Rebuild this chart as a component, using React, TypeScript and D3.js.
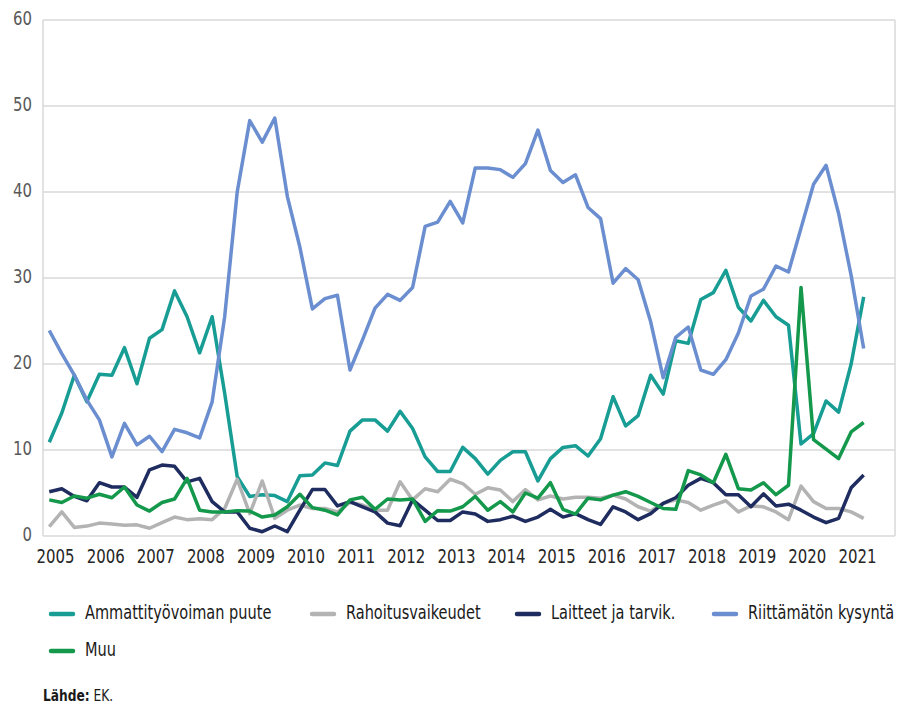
import * as React from 'react';
import { scaleBand, scaleLinear, line } from 'd3';

// quarterly survey, 2005Q1 - 2021Q2 (axis runs to 2021Q4)
const years = [2005, 2006, 2007, 2008, 2009, 2010, 2011, 2012, 2013, 2014, 2015, 2016, 2017, 2018, 2019, 2020, 2021];
const yTicks = [0, 10, 20, 30, 40, 50, 60];

const ammattityovoima = [10.9, 14.3, 18.7, 15.6, 18.8, 18.7, 21.9, 17.7, 23.0, 24.0, 28.5, 25.5, 21.3, 25.5, 16.6, 6.9, 4.6, 4.8, 4.7, 4.0, 7.0, 7.1, 8.5, 8.2, 12.2, 13.5, 13.5, 12.2, 14.5, 12.5, 9.2, 7.5, 7.5, 10.3, 9.0, 7.2, 8.8, 9.8, 9.8, 6.4, 9.0, 10.3, 10.5, 9.3, 11.3, 16.2, 12.8, 14.0, 18.7, 16.5, 22.7, 22.4, 27.5, 28.3, 30.9, 26.6, 25.0, 27.4, 25.5, 24.5, 10.7, 11.9, 15.7, 14.4, 20.0, 27.8];
const rahoitus = [1.1, 2.8, 1.0, 1.15, 1.5, 1.4, 1.25, 1.3, 0.9, 1.55, 2.2, 1.9, 2.0, 1.9, 3.2, 6.6, 2.6, 6.4, 2.05, 3.0, 3.6, 3.2, 3.2, 2.8, 3.9, 3.6, 3.0, 3.0, 6.3, 4.2, 5.5, 5.15, 6.6, 6.1, 4.85, 5.6, 5.35, 4.0, 5.4, 4.2, 4.65, 4.3, 4.5, 4.5, 4.4, 4.75, 4.3, 3.4, 2.9, 3.8, 4.2, 3.9, 3.0, 3.6, 4.1, 2.8, 3.5, 3.4, 2.8, 1.9, 5.8, 4.0, 3.2, 3.2, 2.8, 2.05];
const laitteet = [5.15, 5.5, 4.6, 4.1, 6.2, 5.7, 5.7, 4.5, 7.7, 8.25, 8.1, 6.3, 6.7, 4.0, 2.8, 2.8, 0.9, 0.5, 1.16, 0.5, 3.0, 5.4, 5.4, 3.5, 4.0, 3.4, 2.8, 1.5, 1.2, 4.2, 3.0, 1.8, 1.8, 2.8, 2.55, 1.7, 1.9, 2.3, 1.7, 2.2, 3.1, 2.2, 2.6, 1.9, 1.35, 3.4, 2.8, 1.9, 2.6, 3.8, 4.45, 5.9, 6.7, 6.2, 4.8, 4.8, 3.4, 4.9, 3.5, 3.7, 3.0, 2.2, 1.55, 2.05, 5.6, 7.1];
const kysynta = [23.9, 21.2, 18.7, 15.8, 13.5, 9.2, 13.1, 10.6, 11.6, 9.8, 12.4, 12.0, 11.4, 15.6, 25.5, 40.0, 48.3, 45.8, 48.6, 39.5, 33.6, 26.4, 27.6, 28.0, 19.3, 22.8, 26.5, 28.1, 27.4, 28.9, 36.0, 36.5, 38.9, 36.4, 42.8, 42.8, 42.6, 41.7, 43.3, 47.2, 42.5, 41.1, 42.0, 38.2, 36.9, 29.4, 31.1, 29.8, 24.9, 18.4, 23.1, 24.3, 19.3, 18.8, 20.5, 23.6, 27.9, 28.7, 31.4, 30.7, 35.8, 40.9, 43.1, 37.5, 30.3, 21.8];
const muu = [4.2, 3.9, 4.65, 4.4, 4.85, 4.45, 5.7, 3.6, 2.9, 3.9, 4.3, 6.7, 3.0, 2.8, 2.8, 2.95, 2.9, 2.2, 2.45, 3.4, 4.85, 3.3, 3.0, 2.45, 4.2, 4.5, 3.1, 4.3, 4.2, 4.3, 1.7, 2.95, 2.9, 3.4, 4.6, 3.0, 4.0, 2.8, 5.0, 4.4, 6.2, 3.1, 2.55, 4.4, 4.2, 4.75, 5.15, 4.6, 3.9, 3.2, 3.1, 7.6, 7.1, 6.2, 9.5, 5.5, 5.35, 6.2, 4.8, 5.9, 28.9, 11.2, 10.1, 9.0, 12.1, 13.2];

const series = [
    { name: "Ammattityövoiman puute", values: ammattityovoima, color: "#189d95" },
    { name: "Rahoitusvaikeudet", values: rahoitus, color: "#b3b3b3" },
    { name: "Laitteet ja tarvik.", values: laitteet, color: "#1f2c5f" },
    { name: "Riittämätön kysyntä", values: kysynta, color: "#6a8ecf" },
    { name: "Muu", values: muu, color: "#14984b" },
];

const quarters: string[] = [];
years.forEach(y => [1, 2, 3, 4].forEach(q => quarters.push(`${y}Q${q}`)));

// no condensed font installed -> squeeze text horizontally
const font = "'DejaVu Sans Condensed', 'DejaVu Sans', sans-serif";
const squeeze = 0.85;

// legend placement (x of swatch)
const legendRows = [
    [{ i: 0, x: 49 }, { i: 1, x: 310 }, { i: 2, x: 515 }, { i: 3, x: 712 }],
    [{ i: 4, x: 49 }],
];

const App = () => {
    const margin = { left: 43, right: 895, top: 20, bottom: 536 };

    const xScale = scaleBand<string>()
        .domain(quarters)
        .range([margin.left, margin.right]);
    const bw = xScale.bandwidth();
    const yScale = scaleLinear()
        .domain([0, 60])
        .range([margin.bottom, margin.top]);

    const lineGen = line<number>()
        .x((d, i) => xScale(quarters[i])! + bw / 2)
        .y(d => yScale(d));

    return (
        <svg width={898} height={706} style={{ position: 'absolute', left: 0, top: 0, background: 'white' }} fontFamily={font} fontStretch="condensed">
            {/* grid */}
            {yTicks.map(t => (
                <line key={t} x1={margin.left} x2={margin.right} y1={yScale(t)} y2={yScale(t)} stroke="#d9d9d9" strokeWidth={1.5} />
            ))}
            <line x1={margin.left} x2={margin.left} y1={margin.top} y2={margin.bottom} stroke="#d9d9d9" strokeWidth={1.5} />
            <line x1={margin.right} x2={margin.right} y1={margin.top} y2={margin.bottom} stroke="#d9d9d9" strokeWidth={1.5} />

            {yTicks.map(t => (
                <text key={t} x={32} y={yScale(t) + 5} textAnchor="end" fontSize={19} fill="#595959"
                    textLength={String(t).length * 9.5} lengthAdjust="spacingAndGlyphs">{t}</text>
            ))}
            {years.map(y => (
                <text key={y} x={xScale(`${y}Q1`)! + bw} y={563} textAnchor="middle" fontSize={19} fill="#262626"
                    textLength={38} lengthAdjust="spacingAndGlyphs">{y}</text>
            ))}

            {series.map(s => (
                <path key={s.name} d={lineGen(s.values)!} fill="none" stroke={s.color} strokeWidth={3.5} strokeLinejoin="round" />
            ))}

            {legendRows.map((row, r) => (
                <g key={r} transform={`translate(0, ${614 + r * 37})`}>
                    {row.map(item => (
                        <g key={item.i} transform={`translate(${item.x}, 0)`}>
                            <line x1={2} x2={24} y1={0} y2={0} stroke={series[item.i].color} strokeWidth={4.5} strokeLinecap="round" />
                            <text transform={`translate(36, 5) scale(${squeeze}, 1)`} fontSize={19} fill="#1a1a1a">{series[item.i].name}</text>
                        </g>
                    ))}
                </g>
            ))}

            <text transform={`translate(43, 701) scale(${squeeze}, 1)`} fontSize={16} fill="#1a1a1a">
                <tspan fontWeight="bold">Lähde:</tspan> EK.
            </text>
        </svg>
    );
};

export default App;
